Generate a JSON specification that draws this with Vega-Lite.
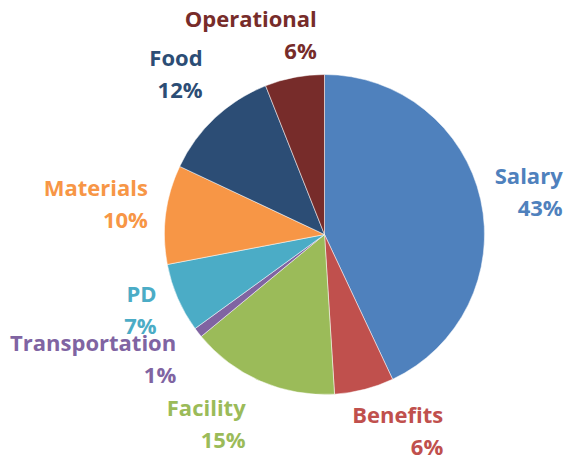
{
  "$schema": "https://vega.github.io/schema/vega-lite/v6.json",
  "width": 493,
  "height": 453,
  "padding": {"left": 78, "top": 8, "right": 0, "bottom": 0},
  "autosize": {"type": "none"},
  "background": "white",
  "data": {
    "values": [
      {"category": "Salary", "value": 43, "rank": 1},
      {"category": "Benefits", "value": 6, "rank": 2},
      {"category": "Facility", "value": 15, "rank": 3},
      {"category": "Transportation", "value": 1, "rank": 4},
      {"category": "PD", "value": 7, "rank": 5},
      {"category": "Materials", "value": 10, "rank": 6},
      {"category": "Food", "value": 12, "rank": 7},
      {"category": "Operational", "value": 6, "rank": 8}
    ]
  },
  "transform": [
    {"calculate": "datum.category + '\\n' + datum.value + '%'", "as": "label"}
  ],
  "encoding": {
    "theta": {"field": "value", "type": "quantitative", "stack": true},
    "order": {"field": "rank", "type": "quantitative"},
    "color": {
      "field": "category",
      "type": "nominal",
      "scale": {
        "domain": ["Salary", "Benefits", "Facility", "Transportation", "PD", "Materials", "Food", "Operational"],
        "range": ["#4F81BD", "#C0504D", "#9BBB59", "#8064A2", "#4BACC6", "#F79646", "#2C4D75", "#772C2A"]
      },
      "legend": null
    }
  },
  "layer": [
    {"mark": {"type": "arc", "radius": 160, "stroke": "#ffffff", "strokeWidth": 0.5}},
    {"mark": {"type": "text", "radius": 242, "dx": 2, "dy": -5},
     "encoding": {"text": {"condition": {"test": "datum.category === 'Salary'", "field": "label"}, "value": ""}}},
    {"mark": {"type": "text", "radius": 220, "dx": 64, "dy": -32},
     "encoding": {"text": {"condition": {"test": "datum.category === 'Benefits'", "field": "label"}, "value": ""}}},
    {"mark": {"type": "text", "radius": 206, "dx": 3, "dy": -15},
     "encoding": {"text": {"condition": {"test": "datum.category === 'Facility'", "field": "label"}, "value": ""}}},
    {"mark": {"type": "text", "radius": 194, "dx": 5, "dy": -9},
     "encoding": {"text": {"condition": {"test": "datum.category === 'Transportation'", "field": "label"}, "value": ""}}},
    {"mark": {"type": "text", "radius": 184, "dx": 1, "dy": -13},
     "encoding": {"text": {"condition": {"test": "datum.category === 'PD'", "field": "label"}, "value": ""}}},
    {"mark": {"type": "text", "radius": 179, "dx": 1, "dy": -23},
     "encoding": {"text": {"condition": {"test": "datum.category === 'Materials'", "field": "label"}, "value": ""}}},
    {"mark": {"type": "text", "radius": 200, "dx": 15, "dy": -30},
     "encoding": {"text": {"condition": {"test": "datum.category === 'Food'", "field": "label"}, "value": ""}}},
    {"mark": {"type": "text", "radius": 196, "dx": 29, "dy": -22},
     "encoding": {"text": {"condition": {"test": "datum.category === 'Operational'", "field": "label"}, "value": ""}}}
  ],
  "config": {
    "view": {"stroke": null},
    "text": {
      "font": "Open Sans",
      "fontWeight": "bold",
      "fontSize": 22,
      "lineHeight": 32,
      "lineBreak": "\n",
      "align": "right",
      "baseline": "middle"
    }
  }
}
